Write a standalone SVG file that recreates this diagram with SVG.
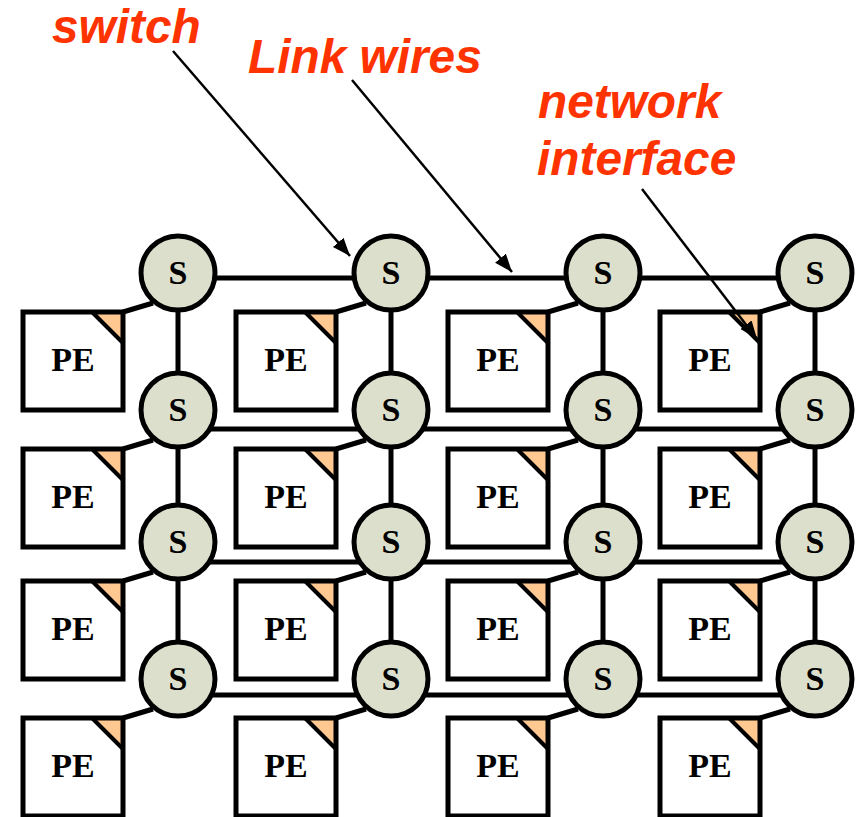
<svg xmlns="http://www.w3.org/2000/svg" width="856" height="817" viewBox="0 0 856 817">
<style>
.wire{stroke:#000;stroke-width:5;fill:none}
.sw{fill:#DCDFCB;stroke:#000;stroke-width:5}
.st{font-family:"Liberation Serif","Times New Roman",serif;font-weight:bold;font-size:34px;text-anchor:middle;fill:#000}
.pebg{fill:#fff}
.pebox{fill:none;stroke:#000;stroke-width:5}
.ni{fill:#FFC891}
.cut{stroke:#000;stroke-width:4}
.lbl{font-family:"Liberation Sans",Arial,sans-serif;font-weight:bold;font-style:italic;font-size:47.8px;fill:#FF3300}
.arr{stroke:#000;stroke-width:2.5;fill:none}
</style>
<defs>
<marker id="ah" markerUnits="userSpaceOnUse" markerWidth="20" markerHeight="16" refX="18" refY="7" orient="auto">
<path d="M0,0 L18,7 L0,14 Z" fill="#000"/>
</marker>
<g id="pe">
<rect class="pebg" x="0" y="0" width="100" height="98"/>
<polygon class="ni" points="69,0 100,0 100,31"/>
<line class="cut" x1="69" y1="0" x2="100" y2="31"/>
<rect class="pebox" x="0" y="0" width="100" height="98"/>
<text class="st" x="50" y="59">PE</text>
</g>
</defs>
<g id="connectors">
<line class="wire" x1="178" y1="278" x2="815" y2="278"/>
<line class="wire" x1="178" y1="429" x2="815" y2="429"/>
<line class="wire" x1="178" y1="562" x2="815" y2="562"/>
<line class="wire" x1="178" y1="695" x2="815" y2="695"/>
<line class="wire" x1="178" y1="273" x2="178" y2="679"/>
<line class="wire" x1="391" y1="273" x2="391" y2="679"/>
<line class="wire" x1="603" y1="273" x2="603" y2="679"/>
<line class="wire" x1="815" y1="273" x2="815" y2="679"/>
<line class="wire" x1="123" y1="312" x2="153" y2="303"/>
<line class="wire" x1="336" y1="312" x2="366" y2="303"/>
<line class="wire" x1="548" y1="312" x2="578" y2="303"/>
<line class="wire" x1="760" y1="312" x2="790" y2="303"/>
<line class="wire" x1="123" y1="449" x2="153" y2="440"/>
<line class="wire" x1="336" y1="449" x2="366" y2="440"/>
<line class="wire" x1="548" y1="449" x2="578" y2="440"/>
<line class="wire" x1="760" y1="449" x2="790" y2="440"/>
<line class="wire" x1="123" y1="581" x2="153" y2="572"/>
<line class="wire" x1="336" y1="581" x2="366" y2="572"/>
<line class="wire" x1="548" y1="581" x2="578" y2="572"/>
<line class="wire" x1="760" y1="581" x2="790" y2="572"/>
<line class="wire" x1="123" y1="718" x2="153" y2="709"/>
<line class="wire" x1="336" y1="718" x2="366" y2="709"/>
<line class="wire" x1="548" y1="718" x2="578" y2="709"/>
<line class="wire" x1="760" y1="718" x2="790" y2="709"/>
</g>
<g id="switches">
<g id="s11"><circle class="sw" cx="178" cy="273" r="37"/><text class="st" x="178" y="284">S</text></g>
<g id="s12"><circle class="sw" cx="391" cy="273" r="37"/><text class="st" x="391" y="284">S</text></g>
<g id="s13"><circle class="sw" cx="603" cy="273" r="37"/><text class="st" x="603" y="284">S</text></g>
<g id="s14"><circle class="sw" cx="815" cy="273" r="37"/><text class="st" x="815" y="284">S</text></g>
<g id="s21"><circle class="sw" cx="178" cy="410" r="37"/><text class="st" x="178" y="421">S</text></g>
<g id="s22"><circle class="sw" cx="391" cy="410" r="37"/><text class="st" x="391" y="421">S</text></g>
<g id="s23"><circle class="sw" cx="603" cy="410" r="37"/><text class="st" x="603" y="421">S</text></g>
<g id="s24"><circle class="sw" cx="815" cy="410" r="37"/><text class="st" x="815" y="421">S</text></g>
<g id="s31"><circle class="sw" cx="178" cy="542" r="37"/><text class="st" x="178" y="553">S</text></g>
<g id="s32"><circle class="sw" cx="391" cy="542" r="37"/><text class="st" x="391" y="553">S</text></g>
<g id="s33"><circle class="sw" cx="603" cy="542" r="37"/><text class="st" x="603" y="553">S</text></g>
<g id="s34"><circle class="sw" cx="815" cy="542" r="37"/><text class="st" x="815" y="553">S</text></g>
<g id="s41"><circle class="sw" cx="178" cy="679" r="37"/><text class="st" x="178" y="690">S</text></g>
<g id="s42"><circle class="sw" cx="391" cy="679" r="37"/><text class="st" x="391" y="690">S</text></g>
<g id="s43"><circle class="sw" cx="603" cy="679" r="37"/><text class="st" x="603" y="690">S</text></g>
<g id="s44"><circle class="sw" cx="815" cy="679" r="37"/><text class="st" x="815" y="690">S</text></g>
</g>
<g id="pes">
<g id="pe11"><use href="#pe" x="23" y="312"/></g>
<g id="pe12"><use href="#pe" x="236" y="312"/></g>
<g id="pe13"><use href="#pe" x="448" y="312"/></g>
<g id="pe14"><use href="#pe" x="660" y="312"/></g>
<g id="pe21"><use href="#pe" x="23" y="449"/></g>
<g id="pe22"><use href="#pe" x="236" y="449"/></g>
<g id="pe23"><use href="#pe" x="448" y="449"/></g>
<g id="pe24"><use href="#pe" x="660" y="449"/></g>
<g id="pe31"><use href="#pe" x="23" y="581"/></g>
<g id="pe32"><use href="#pe" x="236" y="581"/></g>
<g id="pe33"><use href="#pe" x="448" y="581"/></g>
<g id="pe34"><use href="#pe" x="660" y="581"/></g>
<g id="pe41"><use href="#pe" x="23" y="718"/></g>
<g id="pe42"><use href="#pe" x="236" y="718"/></g>
<g id="pe43"><use href="#pe" x="448" y="718"/></g>
<g id="pe44"><use href="#pe" x="660" y="718"/></g>
</g>
<g id="annotations">
<text class="lbl" x="52" y="43">switch</text>
<text class="lbl" x="248" y="73">Link wires</text>
<text class="lbl" x="538" y="118">network</text>
<text class="lbl" x="537" y="175">interface</text>
<line class="arr" x1="173" y1="51" x2="350" y2="256" marker-end="url(#ah)"/>
<line class="arr" x1="352" y1="80" x2="512" y2="272" marker-end="url(#ah)"/>
<line class="arr" x1="642" y1="189" x2="757" y2="339" marker-end="url(#ah)"/>
</g>
</svg>
